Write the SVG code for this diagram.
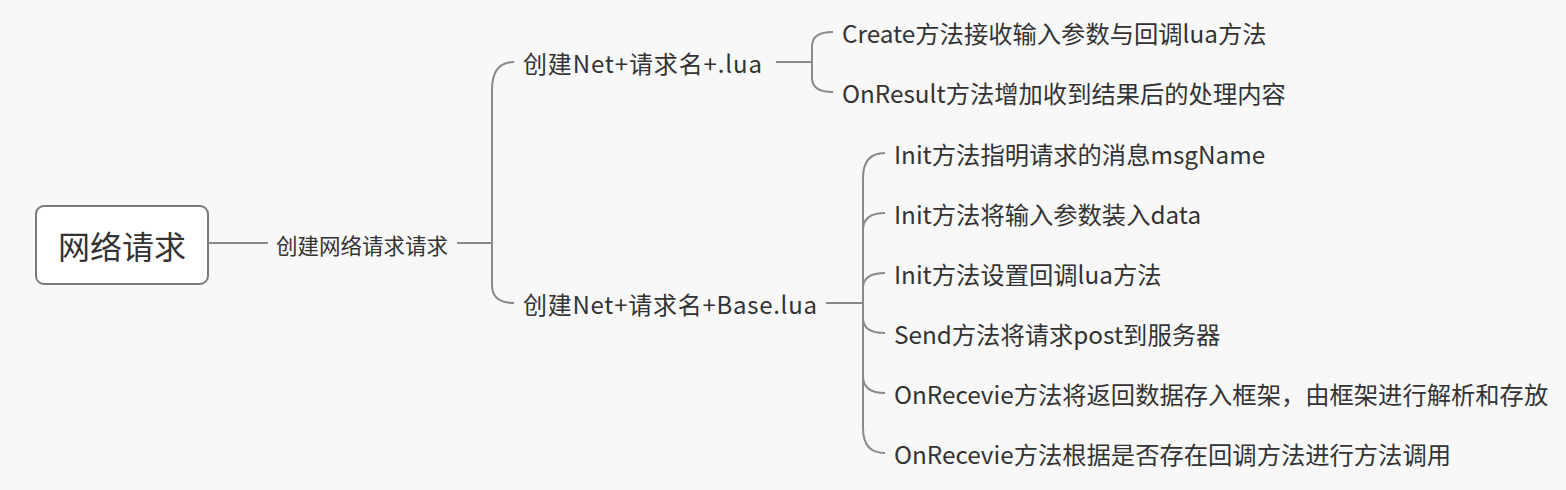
<svg xmlns="http://www.w3.org/2000/svg" width="1566" height="490" viewBox="0 0 1566 490">
<style>
text{font-family:"Noto Sans CJK SC","Microsoft YaHei","Noto Sans",sans-serif;fill:#333;}
.t1{font-size:21.5px;}
.t2{font-size:24px;}
.t3{font-size:24.3px;}
.root{font-size:32px;}
.c{fill:none;stroke:#8a8a8a;stroke-width:2;}
</style>
<rect x="0" y="0" width="1566" height="490" fill="#f8f8f8"/>
<g id="connectors">
<path class="c" d="M209 243 H268"/>
<path class="c" d="M457 243 H492 M492 243 V90 Q492 62 514 62 M492 243 V285 Q492 303 514 303"/>
<path class="c" d="M776 62 H812 M812 62 V46 Q812 32 833 32 M812 62 V78 Q812 92 833 92"/>
<path class="c" d="M826 303 H863 M863 303 V178 Q863 153 885 153 M863 303 V230 Q863 213 885 213 M863 303 V288 Q863 273 885 273 M863 303 V318 Q863 333 885 333 M863 303 V376 Q863 393 885 393 M863 303 V428 Q863 453 885 453"/>
</g>
<g id="root">
<rect x="36" y="206" width="172" height="78" rx="8" fill="#fff" stroke="#7a7a7a" stroke-width="2"/>
<text class="root" x="122" y="259" text-anchor="middle">网络请求</text>
</g>
<g id="n1"><text class="t1" x="276" y="254">创建网络请求请求</text></g>
<g id="n2"><text class="t2" x="523" y="73" textLength="239" lengthAdjust="spacing">创建Net+请求名+.lua</text></g>
<g id="n3"><text class="t2" x="523" y="314" textLength="294" lengthAdjust="spacing">创建Net+请求名+Base.lua</text></g>
<g id="n4"><text class="t3" x="842" y="43">Create方法接收输入参数与回调lua方法</text></g>
<g id="n5"><text class="t3" x="842" y="103">OnResult方法增加收到结果后的处理内容</text></g>
<g id="n6"><text class="t3" x="894" y="164">Init方法指明请求的消息msgName</text></g>
<g id="n7"><text class="t3" x="894" y="224">Init方法将输入参数装入data</text></g>
<g id="n8"><text class="t3" x="894" y="284">Init方法设置回调lua方法</text></g>
<g id="n9"><text class="t3" x="894" y="344">Send方法将请求post到服务器</text></g>
<g id="n10"><text class="t3" x="894" y="404">OnRecevie方法将返回数据存入框架，由框架进行解析和存放</text></g>
<g id="n11"><text class="t3" x="894" y="464">OnRecevie方法根据是否存在回调方法进行方法调用</text></g>
</svg>
